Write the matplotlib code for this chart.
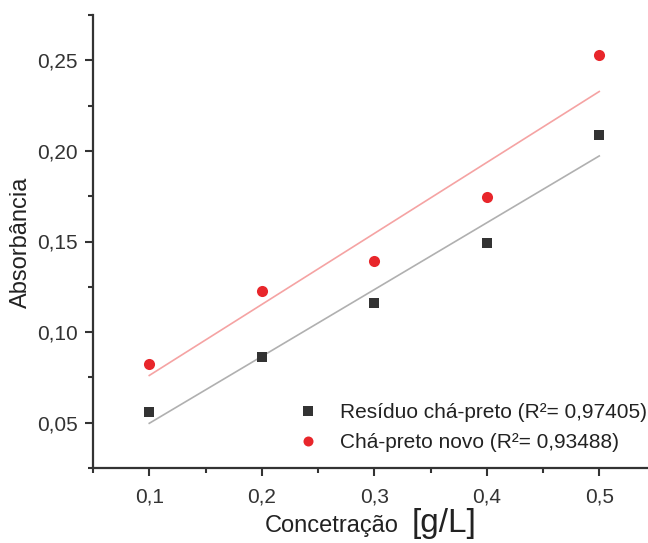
import numpy as np
import matplotlib
matplotlib.use("Agg")
import matplotlib.pyplot as plt
from matplotlib.ticker import FuncFormatter, MultipleLocator

plt.rcParams['font.family'] = ['Liberation Sans', 'DejaVu Sans']

conc = [0.1, 0.2, 0.3, 0.4, 0.5]
residuo = [0.056, 0.0865, 0.1163, 0.1494, 0.209]
novo = [0.0826, 0.1229, 0.1395, 0.1743, 0.2528]
label_res = "Resíduo chá-preto (R²= 0,97405)"
label_novo = "Chá-preto novo (R²= 0,93488)"

fig = plt.figure(figsize=(6.48, 5.43), dpi=100)
ax = fig.add_axes([93/648, 1-468/543, (655.5-93)/648, (468-15)/543])

x = np.array(conc)
for ys, col, lcol, mk, lab in [(residuo, '#333333', '#b0b0b0', 's', label_res),
                               (novo, '#e8262b', '#f5a3a3', 'o', label_novo)]:
    p = np.polyfit(x, ys, 1)
    ax.plot([x[0], x[-1]], np.polyval(p, [x[0], x[-1]]), color=lcol, lw=1.2, zorder=1)
    ax.plot(x, ys, linestyle='none', marker=mk, color=col, markersize=7.5 if mk == 's' else 8,
            markeredgewidth=0, label=lab, zorder=2)

ax.set_xlim(0.05, 0.55)
ax.set_ylim(0.025, 0.275)
ax.xaxis.set_major_locator(MultipleLocator(0.1))
ax.xaxis.set_minor_locator(MultipleLocator(0.05))
ax.yaxis.set_major_locator(MultipleLocator(0.05))
ax.yaxis.set_minor_locator(MultipleLocator(0.025))
ax.xaxis.set_major_formatter(FuncFormatter(lambda v, p: f"{v:.1f}".replace('.', ',')))
ax.yaxis.set_major_formatter(FuncFormatter(lambda v, p: f"{v:.2f}".replace('.', ',')))
for s in ['top', 'right']:
    ax.spines[s].set_visible(False)
for s in ['left', 'bottom']:
    ax.spines[s].set_linewidth(1.6)
    ax.spines[s].set_color('#333333')
ax.tick_params(which='major', direction='out', length=6, width=1.5, colors='#333333',
               labelsize=15, labelcolor='#333333')
ax.tick_params(axis='y', which='major', pad=5)
ax.tick_params(axis='x', which='major', pad=8)
ax.tick_params(which='minor', direction='out', length=3.5, width=1.5, colors='#333333')

fig.text(21/648, 1-242/543, 'Absorbância', fontsize=17, color='#222222', rotation=90,
         ha='center', va='center')

fig.text(265/648, 1-532/543, 'Concetração', fontsize=17, color='#222222', ha='left', va='baseline')
fig.text(412/648, 1-532/543, '[g/L]', fontsize=24, color='#222222', ha='left', va='baseline')

leg = ax.legend(loc='upper left', bbox_to_anchor=(297.6/648, 1-403/543),
                bbox_transform=fig.transFigure, frameon=False, fontsize=15,
                handlelength=1.0, handletextpad=1.04, labelspacing=0.55, borderaxespad=0,
                borderpad=0, markerscale=0.9)
for t in leg.get_texts():
    t.set_color('#222222')

fig.savefig('out.png', dpi=100)
